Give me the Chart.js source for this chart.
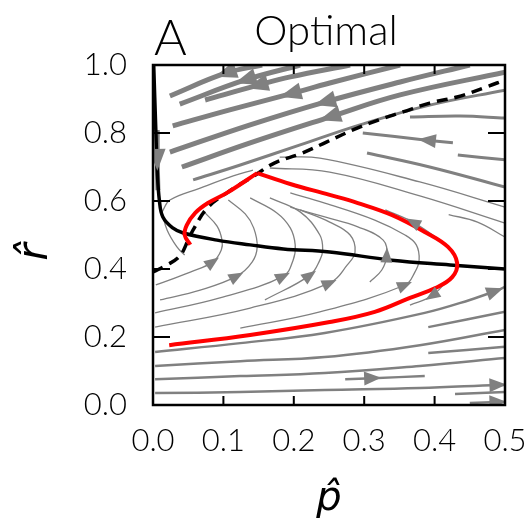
<!DOCTYPE html>
<html>
<head>
<meta charset="utf-8">
<script src="https://cdn.jsdelivr.net/npm/chart.js@4.4.0/dist/chart.umd.min.js"></script>
<style>
  html, body { margin: 0; padding: 0; background: #fff; }
</style>
</head>
<body>
<canvas id="phase" width="529" height="525"></canvas>
<script>
// axis ticks
const xTicks = [0, 0.1, 0.2, 0.3, 0.4, 0.5];
const yTicks = [0, 0.2, 0.4, 0.6, 0.8, 1.0];

// black solid curve and dashed separatrix, [p, r]
const nullcline = [[0.001,1.0],[0.004,0.809],[0.006,0.691],[0.009,0.603],[0.014,0.553],[0.028,0.521],[0.043,0.506],[0.091,0.485],[0.138,0.471],[0.185,0.459],[0.251,0.45],[0.339,0.426],[0.422,0.412],[0.5,0.4]];
const separatrix = [[0,0.391],[0.02,0.412],[0.038,0.438],[0.05,0.485],[0.057,0.515],[0.077,0.579],[0.105,0.624],[0.145,0.676],[0.173,0.712],[0.212,0.741],[0.247,0.774],[0.284,0.809],[0.32,0.838],[0.355,0.862],[0.393,0.888],[0.432,0.906],[0.469,0.932],[0.5,0.956]];

// red optimal path (split at the corner)
const optimalLeft = [[0.053,0.471],[0.045,0.5],[0.048,0.529],[0.060,0.565],[0.078,0.594],[0.105,0.624],[0.148,0.682]];
const optimalRight = [[0.148,0.682],[0.195,0.65],[0.251,0.618],[0.291,0.594],[0.339,0.559],[0.386,0.509],[0.419,0.465],[0.432,0.418],[0.425,0.376],[0.401,0.344],[0.365,0.315],[0.315,0.274],[0.251,0.244],[0.138,0.206],[0.023,0.176]];

// streamlines, points in flow order
const broadStreams = [
  [[0.155,1.0],[0.103,0.976],[0.024,0.909]],
  [[0.209,1.0],[0.131,0.956],[0.038,0.885]],
  [[0.280,1.0],[0.195,0.965],[0.148,0.94],[0.074,0.897]],
  [[0.351,1.0],[0.251,0.947],[0.195,0.915],[0.109,0.868],[0.028,0.821]],
  [[0.450,1.0],[0.351,0.95],[0.244,0.891],[0.138,0.824],[0.024,0.744]],
  [[0.5,0.979],[0.351,0.912],[0.251,0.847],[0.138,0.771],[0.041,0.7]],
  [[0.006,0.809],[0.006,0.721],[0.007,0.632]]
];
const broadArrows = [1, 1, 2, 2, 2, 2, 1];

const mediumStreams = [
  [[0.5,0.926],[0.393,0.882],[0.294,0.824],[0.209,0.765],[0.124,0.706],[0.057,0.662]],
  [[0.5,0.844],[0.436,0.85],[0.365,0.847]],
  [[0.426,0.771],[0.389,0.779],[0.298,0.8]],
  [[0.5,0.721],[0.433,0.735]],
  [[0.5,0.641],[0.393,0.7],[0.304,0.741]]
];
const mediumArrows = [-1, -1, 1, -1, -1];

const thinStreams = [
  [[0.5,0.582],[0.379,0.656],[0.237,0.726],[0.18,0.729]],
  [[0.5,0.535],[0.379,0.615],[0.251,0.685],[0.166,0.697]],
  [[0.5,0.494],[0.461,0.538],[0.42,0.56]],
  [[0.004,0.353],[0.053,0.391],[0.085,0.421],[0.097,0.456],[0.098,0.485],[0.091,0.526],[0.074,0.565]],
  [[0.010,0.309],[0.067,0.338],[0.119,0.379],[0.141,0.421],[0.148,0.465],[0.143,0.521],[0.131,0.562],[0.107,0.603]],
  [[0.003,0.271],[0.095,0.315],[0.185,0.379],[0.199,0.426],[0.202,0.471],[0.195,0.521],[0.176,0.565],[0.138,0.609]],
  [[0.159,0.309],[0.223,0.382],[0.237,0.426],[0.241,0.456],[0.237,0.5],[0.209,0.568],[0.166,0.609]],
  [[0.003,0.229],[0.138,0.285],[0.251,0.359],[0.276,0.412],[0.287,0.45],[0.280,0.5],[0.251,0.538],[0.209,0.574]],
  [[0.308,0.362],[0.325,0.397],[0.332,0.441],[0.327,0.485],[0.291,0.524],[0.244,0.553],[0.195,0.582]],
  [[0.124,0.226],[0.237,0.274],[0.358,0.353],[0.372,0.391],[0.378,0.426],[0.374,0.471],[0.358,0.5],[0.315,0.544],[0.244,0.594],[0.195,0.624]],
  [[0.142,0.691],[0.114,0.674],[0.067,0.638],[0.024,0.603],[0.013,0.568]],
  [[0.013,0.565],[0.020,0.515],[0.034,0.465],[0.045,0.441]],
  [[0.408,0.485],[0.369,0.538],[0.330,0.574]],
  [[0.419,0.368],[0.396,0.321],[0.365,0.294]]
];
const thinArrows = [-1, -1, -1, 2, 2, 2, 1, 2, 2, 2, -1, -1, 1, 1];

const lowStreams = [
  [[0.003,0.156],[0.124,0.182],[0.244,0.212],[0.386,0.271],[0.450,0.309],[0.486,0.335],[0.5,0.347]],
  [[0.391,0.229],[0.5,0.274]],
  [[0.003,0.115],[0.124,0.129],[0.244,0.141],[0.379,0.176],[0.5,0.221]],
  [[0.391,0.153],[0.5,0.171]],
  [[0.003,0.076],[0.124,0.085],[0.244,0.094],[0.379,0.115],[0.5,0.138]],
  [[0.273,0.076],[0.312,0.079],[0.386,0.085]],
  [[0.003,0.035],[0.124,0.038],[0.244,0.044],[0.379,0.05],[0.490,0.059],[0.5,0.059]],
  [[0.429,0.032],[0.5,0.038]],
  [[0.450,0.006],[0.490,0.009],[0.5,0.009]]
];
const lowArrows = [5, -1, -1, -1, -1, 1, 4, -1, 1];

const GREY = '#808080';
const FONT = 'Lato';

function line(points, color, width, extra) {
  return Object.assign({
    data: points.map(([x, y]) => ({ x, y })),
    showLine: true,
    borderColor: color,
    backgroundColor: color,
    borderWidth: width,
    pointRadius: 0,
    tension: 0.4,
    fill: false
  }, extra || {});
}

const datasets = [
  line(optimalLeft, '#ff0000', 4),
  line(optimalRight, '#ff0000', 4),
  line(nullcline, '#000000', 3.5),
  line(separatrix, '#000000', 3.5, { borderDash: [11, 7] })
];
broadStreams.forEach((s, i) => datasets.push(line(s, GREY, 5, { arrowAt: broadArrows[i], arrowLen: 22, arrowWid: 17 })));
mediumStreams.forEach((s, i) => datasets.push(line(s, GREY, 3, { arrowAt: mediumArrows[i], arrowLen: 18, arrowWid: 14 })));
thinStreams.forEach((s, i) => datasets.push(line(s, GREY, 1.3, { arrowAt: thinArrows[i], arrowLen: 15, arrowWid: 12 })));
lowStreams.forEach((s, i) => datasets.push(line(s, GREY, 2.5, { arrowAt: lowArrows[i], arrowLen: 17, arrowWid: 14 })));

// arrow heads, frame with inward ticks, panel texts
const decor = {
  id: 'decor',
  afterDatasetsDraw(chart) {
    const { ctx, chartArea: a, scales: { x, y } } = chart;
    ctx.save();
    ctx.beginPath();
    ctx.rect(a.left, a.top, a.right - a.left, a.bottom - a.top);
    ctx.clip();
    chart.data.datasets.forEach(ds => {
      const i = ds.arrowAt;
      if (i === undefined || i < 0) return;
      const d = ds.data;
      const p = d[i], q = d[Math.min(i + 1, d.length - 1)], o = d[Math.max(i - 1, 0)];
      const px = x.getPixelForValue(p.x), py = y.getPixelForValue(p.y);
      let dx = x.getPixelForValue(q.x) - x.getPixelForValue(o.x);
      let dy = y.getPixelForValue(q.y) - y.getPixelForValue(o.y);
      const n = Math.hypot(dx, dy) || 1;
      dx /= n; dy /= n;
      const L = ds.arrowLen, W = ds.arrowWid / 2;
      ctx.fillStyle = ds.borderColor;
      ctx.beginPath();
      ctx.moveTo(px + dx * L / 2, py + dy * L / 2);
      ctx.lineTo(px - dx * L / 2 - dy * W, py - dy * L / 2 + dx * W);
      ctx.lineTo(px - dx * L / 2 + dy * W, py - dy * L / 2 - dx * W);
      ctx.closePath();
      ctx.fill();
    });
    ctx.restore();
  },
  afterDraw(chart) {
    const { ctx, chartArea: a, scales: { x, y } } = chart;
    ctx.save();
    ctx.strokeStyle = '#000';
    ctx.lineWidth = 2;
    xTicks.forEach(v => {
      const px = x.getPixelForValue(v);
      ctx.beginPath();
      ctx.moveTo(px, a.bottom); ctx.lineTo(px, a.bottom - 9);
      ctx.moveTo(px, a.top); ctx.lineTo(px, a.top + 9);
      ctx.stroke();
    });
    yTicks.forEach(v => {
      const py = y.getPixelForValue(v);
      ctx.beginPath();
      ctx.moveTo(a.left, py); ctx.lineTo(a.left + 17, py);
      ctx.moveTo(a.right, py); ctx.lineTo(a.right - 17, py);
      ctx.stroke();
    });
    ctx.lineWidth = 2.5;
    ctx.strokeRect(a.left, a.top, a.right - a.left, a.bottom - a.top);

    ctx.fillStyle = '#000';
    ctx.textBaseline = 'alphabetic';
    ctx.textAlign = 'left';
    ctx.font = '300 50px ' + FONT;
    ctx.fillText('A', a.left + 1, 55);
    ctx.textAlign = 'center';
    ctx.font = '300 42px ' + FONT;
    ctx.fillText('Optimal', (a.left + a.right) / 2 - 3, 45);

    ctx.font = 'italic 42px "DejaVu Sans"';
    ctx.textBaseline = 'middle';
    ctx.translate(36, 252);
    ctx.rotate(-Math.PI / 2);
    ctx.fillText('r\u0302', 0, 0);
    ctx.restore();
  }
};

new Chart(document.getElementById('phase'), {
  type: 'scatter',
  data: { datasets },
  options: {
    responsive: false,
    animation: false,
    events: [],
    layout: { padding: { left: 0, right: 24, top: 65, bottom: 0 } },
    plugins: { legend: { display: false }, tooltip: { enabled: false } },
    scales: {
      x: {
        type: 'linear', min: 0, max: 0.5,
        afterBuildTicks: s => { s.ticks = xTicks.map(v => ({ value: v })); },
        afterFit: s => { s.height = 120; s.paddingLeft = 0; s.paddingRight = 0; },
        grid: { display: false, drawTicks: false },
        border: { display: false },
        ticks: {
          padding: 17, color: '#000', maxRotation: 0,
          font: { family: FONT, size: 31, weight: 300 },
          callback: v => v.toFixed(1)
        },
        title: {
          display: true, text: 'p\u0302', color: '#000',
          font: { family: 'DejaVu Sans', size: 40, style: 'italic' },
          padding: { top: 0, bottom: 1 }
        }
      },
      y: {
        type: 'linear', min: 0, max: 1,
        afterBuildTicks: s => { s.ticks = yTicks.map(v => ({ value: v })); },
        afterFit: s => { s.width = 153; s.paddingTop = 0; s.paddingBottom = 0; },
        grid: { display: false, drawTicks: false },
        border: { display: false },
        ticks: {
          padding: 26, color: '#000',
          font: { family: FONT, size: 31, weight: 300 },
          callback: v => v.toFixed(1)
        }
      }
    }
  },
  plugins: [decor]
});
</script>
</body>
</html>
